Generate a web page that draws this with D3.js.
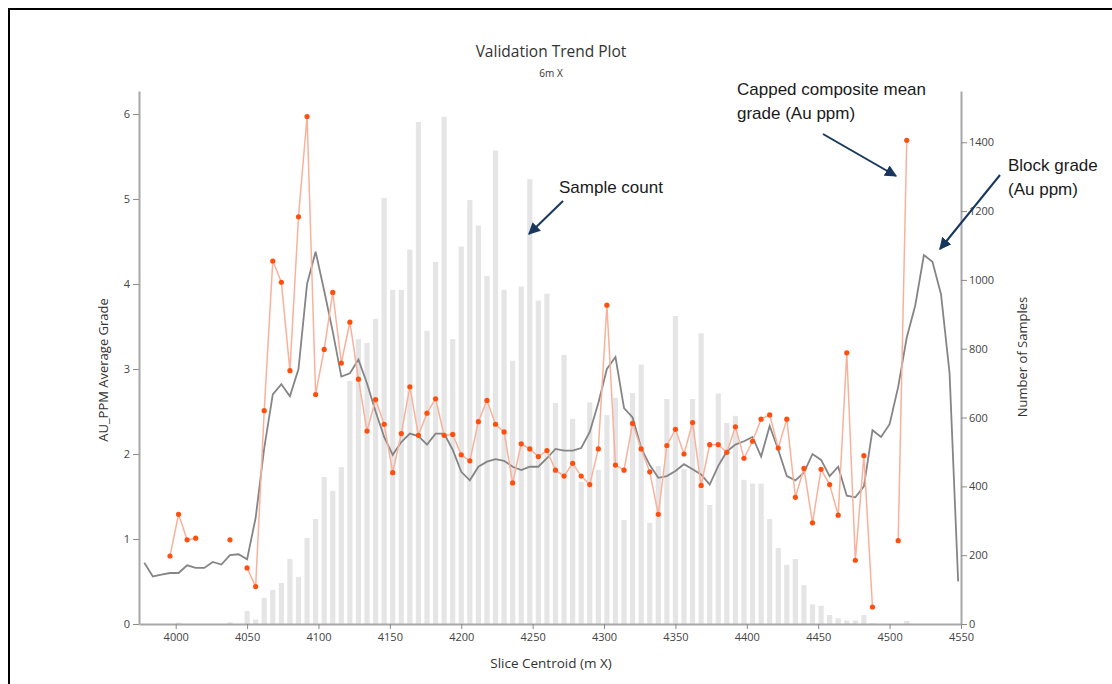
<!DOCTYPE html>
<html>
<head>
<meta charset="utf-8">
<script src="https://cdn.jsdelivr.net/npm/d3@7"></script>
<style>
    body { margin: 0; background: #fff; }
    .axis text { font-family: "Open Sans", sans-serif; font-size: 11px; fill: #444; }
    .axis .domain { stroke: #a8a8a8; stroke-width: 2; }
    .axis .tick line { stroke: #8a8a8a; }
    .note { font-family: "Liberation Sans", Arial, sans-serif; font-size: 17px; fill: #1a1a1a; }
</style>
</head>
<body>
<div id="chart"></div>
<script>
//  Slice centroids (m X)
var slices          =   [3978,3984,3990,3996,4002,4008,4014,4020,4026,4032,4038,4044,
                         4050,4056,4062,4068,4074,4080,4086,4092,4098,4104,4110,4116,
                         4122,4128,4134,4140,4146,4152,4158,4164,4170,4176,4182,4188,
                         4194,4200,4206,4212,4218,4224,4230,4236,4242,4248,4254,4260,
                         4266,4272,4278,4284,4290,4296,4302,4308,4314,4320,4326,4332,
                         4338,4344,4350,4356,4362,4368,4374,4380,4386,4392,4398,4404,
                         4410,4416,4422,4428,4434,4440,4446,4452,4458,4464,4470,4476,
                         4482,4488,4494,4500,4506,4512,4518,4524,4530,4536,4542,4548];

// Number of samples per slice
var sampleCount     =   [0,0,0,0,4,0,0,0,0,0,5,0,
                         38,13,76,99,119,189,137,250,305,427,387,456,
                         706,828,817,887,1238,971,971,1088,1459,852,1052,1474,
                         828,1097,1232,1158,1011,1376,971,765,981,1293,940,960,
                         642,782,596,413,644,448,607,657,302,671,754,294,
                         459,654,895,450,654,845,346,670,584,605,419,408,
                         408,305,221,172,189,113,57,53,26,17,10,10,
                         26,2,0,0,0,9,0,0,0,0,0,0];

// Capped composite mean grade (Au ppm), null where no samples
var compositeMean   =   [null,null,null,0.80,1.29,0.99,1.01,null,null,null,0.99,null,
                         0.66,0.44,2.51,4.27,4.02,2.98,4.79,5.97,2.70,3.23,3.90,3.07,
                         3.55,2.88,2.27,2.64,2.35,1.78,2.24,2.79,2.22,2.48,2.65,2.22,
                         2.23,1.99,1.92,2.38,2.63,2.35,2.26,1.66,2.12,2.06,1.97,2.04,
                         1.81,1.74,1.89,1.74,1.64,2.06,3.75,1.87,1.81,2.36,2.06,1.79,
                         1.29,2.10,2.29,2.00,2.37,1.63,2.11,2.11,2.02,2.32,1.95,2.15,
                         2.41,2.46,2.07,2.41,1.49,1.83,1.19,1.82,1.64,1.28,3.19,0.75,
                         1.98,0.20,null,null,0.98,5.69,null,null,null,null,null,null];

// Block grade (Au ppm)
var blockGrade      =   [0.72,0.56,0.58,0.60,0.60,0.69,0.66,0.66,0.73,0.70,0.81,0.82,
                         0.76,1.25,2.07,2.70,2.82,2.68,3.00,4.00,4.38,3.92,3.44,2.91,
                         2.95,3.11,2.83,2.50,2.20,1.99,2.14,2.24,2.21,2.11,2.24,2.24,
                         2.05,1.79,1.69,1.85,1.91,1.94,1.92,1.85,1.81,1.85,1.85,1.95,
                         2.06,2.04,2.04,2.07,2.26,2.60,3.00,3.14,2.54,2.43,2.07,1.87,
                         1.72,1.74,1.80,1.88,1.82,1.76,1.64,1.86,2.03,2.11,2.15,2.20,
                         1.97,2.33,2.05,1.74,1.69,1.78,2.00,1.93,1.74,1.85,1.51,1.49,
                         1.62,2.28,2.20,2.35,2.79,3.37,3.75,4.34,4.26,3.88,2.95,0.50];

// Tick labels
var xTicks          =   [4000,4050,4100,4150,4200,4250,4300,4350,4400,4450,4500,4550];
var gradeTicks      =   [0,1,2,3,4,5,6];
var countTicks      =   [0,200,400,600,800,1000,1200,1400];


//  Define width and height
var chart_width     =   1112;
var chart_height    =   684;

var svg             =   d3.select("#chart")
    .append("svg")
    .attr("width", chart_width)
    .attr("height", chart_height);

// Frame
svg.append("rect")
    .attr("x", 9).attr("y", 9)
    .attr("width", 1200).attr("height", 800)
    .attr("fill", "none")
    .attr("stroke", "#000")
    .attr("stroke-width", 2);

// Scales
var x               =   d3.scaleLinear().domain([3974.3, 4550]).range([139, 961]);
var yGrade          =   d3.scaleLinear().domain([0, 6.27]).range([624, 91]);
var yCount          =   d3.scaleLinear().domain([0, 1549]).range([624, 91]);
var plain           =   d3.format("d");

var rows            =   slices.map(function(s, i){
    return { slice: s, count: sampleCount[i], mean: compositeMean[i], block: blockGrade[i] };
});

// Sample count bars
svg.append("g")
    .selectAll("rect")
    .data(rows)
    .enter().append("rect")
    .attr("x", function(d){ return x(d.slice) - 2.6; })
    .attr("y", function(d){ return yCount(d.count); })
    .attr("width", 5.2)
    .attr("height", function(d){ return 624 - yCount(d.count); })
    .attr("fill", "#e5e5e5");

// Axes
svg.append("g")
    .attr("class", "axis")
    .attr("transform", "translate(0,624)")
    .call(d3.axisBottom(x).tickValues(xTicks).tickFormat(plain)
        .tickSize(5).tickSizeOuter(0).tickPadding(4));

svg.append("g")
    .attr("class", "axis")
    .attr("transform", "translate(139,0)")
    .call(d3.axisLeft(yGrade).tickValues(gradeTicks).tickFormat(plain)
        .tickSize(6).tickSizeOuter(0).tickPadding(3));

svg.append("g")
    .attr("class", "axis")
    .attr("transform", "translate(961,0)")
    .call(d3.axisRight(yCount).tickValues(countTicks).tickFormat(plain)
        .tickSize(6).tickSizeOuter(0).tickPadding(2));

// Block grade line
var blockLine       =   d3.line()
    .x(function(d){ return x(d.slice); })
    .y(function(d){ return yGrade(d.block); });

svg.append("path")
    .datum(rows)
    .attr("fill", "none")
    .attr("stroke", "#858585")
    .attr("stroke-width", 1.8)
    .attr("d", blockLine);

// Composite mean line, broken where no data
var meanLine        =   d3.line()
    .defined(function(d){ return d.mean !== null; })
    .x(function(d){ return x(d.slice); })
    .y(function(d){ return yGrade(d.mean); });

svg.append("path")
    .datum(rows)
    .attr("fill", "none")
    .attr("stroke", "#f8b29c")
    .attr("stroke-width", 1.5)
    .attr("d", meanLine);

svg.append("g")
    .selectAll("circle")
    .data(rows.filter(function(d){ return d.mean !== null; }))
    .enter().append("circle")
    .attr("cx", function(d){ return x(d.slice); })
    .attr("cy", function(d){ return yGrade(d.mean); })
    .attr("r", 2.6)
    .attr("fill", "#ff4f0f");

// Titles
svg.append("text")
    .attr("x", 551).attr("y", 57)
    .attr("text-anchor", "middle")
    .style("font-family", "Open Sans, sans-serif")
    .style("font-size", "15.5px")
    .attr("fill", "#333")
    .text("Validation Trend Plot");

svg.append("text")
    .attr("x", 551).attr("y", 77)
    .attr("text-anchor", "middle")
    .style("font-family", "Open Sans, sans-serif")
    .style("font-size", "10px")
    .attr("fill", "#333")
    .text("6m X");

svg.append("text")
    .attr("x", 551).attr("y", 668)
    .attr("text-anchor", "middle")
    .style("font-family", "Open Sans, sans-serif")
    .style("font-size", "13.5px")
    .attr("fill", "#333")
    .text("Slice Centroid (m X)");

svg.append("text")
    .attr("transform", "translate(108,370) rotate(-90)")
    .attr("text-anchor", "middle")
    .style("font-family", "Open Sans, sans-serif")
    .style("font-size", "13px")
    .attr("fill", "#333")
    .text("AU_PPM Average Grade");

svg.append("text")
    .attr("transform", "translate(1027,357) rotate(-90)")
    .attr("text-anchor", "middle")
    .style("font-family", "Open Sans, sans-serif")
    .style("font-size", "13px")
    .attr("fill", "#333")
    .text("Number of Samples");

// Annotations
var defs            =   svg.append("defs");
defs.append("marker")
    .attr("id", "head")
    .attr("viewBox", "0 0 10 10")
    .attr("refX", 9).attr("refY", 5)
    .attr("markerWidth", 6).attr("markerHeight", 6)
    .attr("orient", "auto")
    .append("path")
    .attr("d", "M0,0 L10,5 L0,10 z")
    .attr("fill", "#17375e");

var arrows          =   [
    [[563, 201], [529, 234]],
    [[823, 134], [896, 176]],
    [[1000, 175], [940, 249]]
];

svg.selectAll("line.arrow")
    .data(arrows)
    .enter().append("line")
    .attr("class", "arrow")
    .attr("x1", function(d){ return d[0][0]; })
    .attr("y1", function(d){ return d[0][1]; })
    .attr("x2", function(d){ return d[1][0]; })
    .attr("y2", function(d){ return d[1][1]; })
    .attr("stroke", "#17375e")
    .attr("stroke-width", 2)
    .attr("marker-end", "url(#head)");

var notes           =   [
    { x: 559, y: 193, t: "Sample count" },
    { x: 737, y: 95,  t: "Capped composite mean" },
    { x: 737, y: 119, t: "grade (Au ppm)" },
    { x: 1008, y: 171, t: "Block grade" },
    { x: 1008, y: 195, t: "(Au ppm)" }
];

svg.selectAll("text.note")
    .data(notes)
    .enter().append("text")
    .attr("class", "note")
    .attr("x", function(d){ return d.x; })
    .attr("y", function(d){ return d.y; })
    .text(function(d){ return d.t; });
</script>
</body>
</html>
